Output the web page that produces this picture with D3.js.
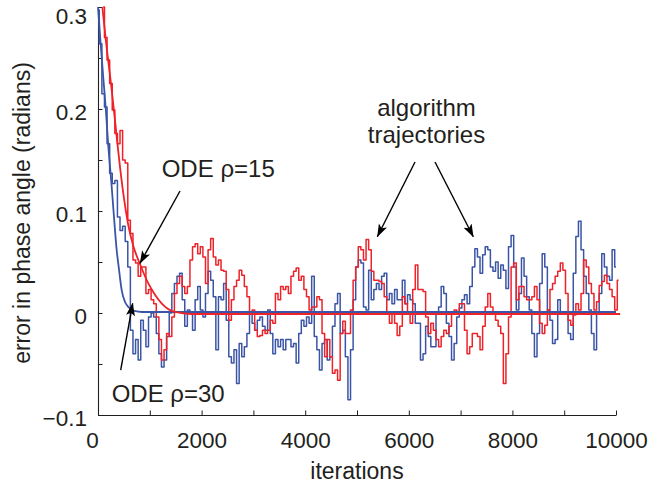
<!DOCTYPE html>
<html><head><meta charset="utf-8">
<script src="https://cdn.jsdelivr.net/npm/d3@7"></script>
<style>
body{margin:0;background:#fff}
svg text{font-family:"Liberation Sans",Arial,Helvetica,sans-serif;fill:#231f20}
</style>
</head><body>
<svg id="chart" width="665" height="484"></svg>
<script>
// ---------- data ----------
const xTicks = [0,1000,2000,3000,4000,5000,6000,7000,8000,9000,10000];
const xTickLabels = ["0","","2000","","4000","","6000","","8000","","10000"];
const yTicks = [0.3,0.25,0.2,0.15,0.1,0.05,0,-0.05,-0.1];
const yTickLabels = ["0.3","","0.2","","0.1","","0","","\u22120.1"];

// trajectories sampled every 50 iterations
const blueStart = 0, redStart = 100, sampleStep = 50;
const blueTraj = [
0.297,0.264,0.215,0.202,0.166,0.137,0.127,0.130,0.094,0.081,
0.085,0.070,0.045,-0.017,-0.040,-0.026,-0.046,-0.007,-0.017,-0.033,
-0.004,0.000,-0.004,-0.020,-0.040,-0.053,-0.046,-0.023,0.000,0.019,
0.029,0.036,0.039,0.013,-0.013,0.003,0.000,-0.017,0.013,0.026,
0.003,-0.004,0.019,0.041,0.032,0.016,-0.036,0.016,0.013,0.029,
-0.007,-0.043,-0.049,-0.036,-0.069,-0.030,-0.043,-0.033,-0.020,0.000,
-0.010,-0.017,-0.007,-0.004,-0.013,-0.017,0.003,-0.020,-0.040,-0.026,
-0.033,-0.026,-0.036,-0.026,-0.026,-0.033,-0.030,-0.049,-0.020,-0.007,
-0.013,-0.004,-0.010,0.036,-0.023,-0.036,-0.056,-0.030,-0.026,-0.046,
-0.043,-0.013,0.009,0.019,-0.020,-0.017,-0.043,-0.085,-0.036,0.013,
0.045,0.052,0.049,0.006,0.003,0.042,0.013,0.023,0.029,0.023,
0.036,0.039,0.013,0.019,0.009,0.023,0.013,0.013,0.032,0.009,
0.018,0.013,0.009,-0.010,-0.010,-0.046,-0.040,-0.013,-0.023,-0.033,
-0.033,0.000,0.006,0.026,0.019,-0.010,-0.023,-0.046,-0.030,-0.004,
0.005,0.013,0.018,0.009,0.026,0.045,0.063,0.055,0.039,0.057,
0.065,0.062,0.045,0.041,0.050,0.034,0.047,0.042,0.024,0.065,
0.076,0.045,0.003,0.019,0.054,0.036,0.016,0.003,-0.020,-0.043,
-0.020,0.029,0.058,0.045,0.003,-0.007,-0.030,-0.026,0.013,0.000,
0.000,0.000,-0.020,-0.026,0.039,0.075,0.090,0.062,0.036,0.019,
0.003,-0.020,-0.036,0.000,0.019,0.058,0.045,0.036,0.032,0.062,
0.045
];
const redTraj = [
0.300,0.270,0.248,0.225,0.199,0.176,0.166,0.179,0.150,0.147,
0.091,0.078,0.052,0.049,0.036,0.045,0.045,0.019,0.023,0.013,
0.009,-0.004,-0.026,-0.046,-0.036,-0.020,-0.023,-0.004,0.019,0.029,
0.036,0.026,0.019,0.026,0.052,0.065,0.068,0.058,0.065,0.055,
0.029,0.062,0.073,0.055,0.047,0.052,0.042,0.041,0.023,-0.007,
0.013,0.026,0.032,0.042,0.037,0.026,0.016,0.000,0.003,-0.017,
-0.023,-0.022,-0.017,-0.020,-0.017,-0.007,-0.010,0.019,0.013,0.026,
0.023,0.026,0.019,0.036,0.041,0.044,0.032,0.036,0.023,0.016,
0.003,0.006,0.006,0.016,0.013,-0.020,-0.043,-0.026,-0.043,-0.059,
-0.056,-0.066,-0.020,-0.008,-0.020,-0.020,0.003,0.032,0.045,0.065,
0.062,0.052,0.072,0.062,0.041,0.032,0.032,0.031,0.029,0.016,
0.000,-0.010,0.000,-0.010,-0.022,-0.013,0.016,0.009,0.000,-0.010,
0.023,0.047,0.023,0.023,0.021,-0.004,-0.020,-0.010,-0.017,-0.026,
-0.033,-0.023,-0.017,-0.020,-0.013,0.000,0.003,0.000,0.009,0.009,
-0.017,-0.040,-0.033,-0.020,-0.020,-0.023,-0.036,-0.013,0.006,0.019,
0.006,0.000,-0.007,-0.013,-0.020,-0.069,-0.040,-0.004,0.045,0.049,
0.013,0.026,0.026,0.016,0.013,0.013,0.016,0.026,0.013,-0.010,
-0.020,-0.012,0.003,0.023,0.029,0.036,0.041,0.049,0.042,0.019,
-0.007,-0.012,-0.002,0.009,0.003,0.019,0.052,0.045,0.029,0.019,
0.003,0.011,0.027,0.031,0.037,0.029,0.023,0.016,0.003,0.032
];

// ODE solutions: [iteration, value]
const odeRho30 = [[0,0.300],[50,0.265],[100,0.232],[150,0.200],[200,0.163],[264,0.124],
  [300,0.100],[360,0.062],[400,0.045],[457,0.0225],[520,0.011],[585,0.006],[700,0.002],
  [850,0.001],[10000,0.001]];
const odeRho15 = [[84,0.300],[150,0.268],[264,0.219],[350,0.178],[425,0.143],[500,0.113],
  [585,0.086],[680,0.066],[810,0.048],[971,0.029],[1100,0.018],[1228,0.0095],[1485,0.001],
  [1800,-0.001],[10080,-0.001]];

// annotations in data coordinates
const annoLabels = [
  {text:"ODE \u03c1=15", x:1230, y:0.1333, anchor:"start"},
  {text:"ODE \u03c1=30", x:264, y:-0.0868, anchor:"start"},
  {text:"algorithm", x:6342, y:0.193, anchor:"middle"},
  {text:"trajectories", x:6342, y:0.1664, anchor:"middle"}
];
const annoArrows = [
  {x1:1583, y1:0.1196, x2:811, y2:0.0487},
  {x1:438, y1:-0.0559, x2:670, y2:0.0095},
  {x1:6120, y1:0.148, x2:5392, y2:0.0748},
  {x1:6506, y1:0.148, x2:7245, y2:0.0748}
];

// ---------- drawing ----------
const svg = d3.select("#chart");
const x = d3.scaleLinear().domain([0,10000]).range([98,616]);
const y = d3.scaleLinear().domain([-0.1,0.3]).range([415,7]);

const ink = "#231f20";
const blue = "#3b55a6", red = "#ee2229";

// axes
const xAxis = d3.axisBottom(x).tickValues(xTicks)
  .tickFormat((d,i)=>xTickLabels[i]).tickSizeInner(-4.5).tickSizeOuter(0).tickPadding(17);
const gx = svg.append("g").attr("transform",`translate(0,${y(-0.1)})`).call(xAxis);
const yAxis = d3.axisLeft(y).tickValues(yTicks)
  .tickFormat((d,i)=>yTickLabels[i]).tickSizeInner(-4.5).tickSizeOuter(0).tickPadding(11);
const gy = svg.append("g").attr("transform",`translate(${x(0)},0)`).call(yAxis);
[gx,gy].forEach(g=>{
  g.selectAll("path.domain").attr("stroke",ink).attr("stroke-width",1.1);
  g.selectAll(".tick line").attr("stroke",ink).attr("stroke-width",1);
  g.selectAll(".tick text").attr("font-size","22.5px").attr("fill",ink)
    .style("font-family",'"Liberation Sans",Arial,Helvetica,sans-serif');
});
gy.selectAll(".tick text").attr("dy","0.45em");
gy.selectAll(".tick text").filter(d=>d===0.3).attr("dy","0.75em");
gx.selectAll(".tick text").filter(d=>d===0).attr("dx","-6");

// axis titles
svg.append("text").attr("x",(x(0)+x(10000))/2).attr("y",479)
  .attr("text-anchor","middle").attr("font-size","23px").text("iterations");
svg.append("text").attr("transform",`translate(30,${(y(0.3)+y(-0.1))/2+2}) rotate(-90)`)
  .attr("text-anchor","middle").attr("font-size","23px").text("error in phase angle (radians)");

// series
const trajLine = d3.line().x(d=>x(d[0])).y(d=>y(d[1])).curve(d3.curveStep);
const smoothLine = d3.line().x(d=>x(d[0])).y(d=>y(d[1])).curve(d3.curveMonotoneX);
const bluePts = blueTraj.map((v,i)=>[blueStart+i*sampleStep,v]);
const redPts = redTraj.map((v,i)=>[redStart+i*sampleStep,v]);

svg.append("path").datum(bluePts).attr("d",trajLine)
  .attr("fill","none").attr("stroke",blue).attr("stroke-width",1.5).attr("stroke-linejoin","round");
svg.append("path").datum(redPts).attr("d",trajLine)
  .attr("fill","none").attr("stroke",red).attr("stroke-width",1.5).attr("stroke-linejoin","round");
svg.append("path").datum(odeRho30).attr("d",smoothLine)
  .attr("fill","none").attr("stroke",blue).attr("stroke-width",1.8);
svg.append("path").datum(odeRho15).attr("d",smoothLine)
  .attr("fill","none").attr("stroke",red).attr("stroke-width",1.8);

// annotations
const defs = svg.append("defs");
defs.append("marker").attr("id","ah").attr("viewBox","0 0 13 10")
  .attr("refX",12.5).attr("refY",5).attr("markerWidth",13).attr("markerHeight",10)
  .attr("markerUnits","userSpaceOnUse").attr("orient","auto")
  .append("path").attr("d","M0,0.5 L13,5 L0,9.5 L3,5 z").attr("fill","#000");

svg.selectAll("line.arrow").data(annoArrows).join("line").attr("class","arrow")
  .attr("x1",d=>x(d.x1)).attr("y1",d=>y(d.y1)).attr("x2",d=>x(d.x2)).attr("y2",d=>y(d.y2))
  .attr("stroke","#000").attr("stroke-width",1.4).attr("marker-end","url(#ah)");

svg.selectAll("text.anno").data(annoLabels).join("text").attr("class","anno")
  .attr("x",d=>x(d.x)).attr("y",d=>y(d.y)).attr("text-anchor",d=>d.anchor)
  .attr("font-size","24px").attr("fill","#000").text(d=>d.text);
</script>
</body></html>
